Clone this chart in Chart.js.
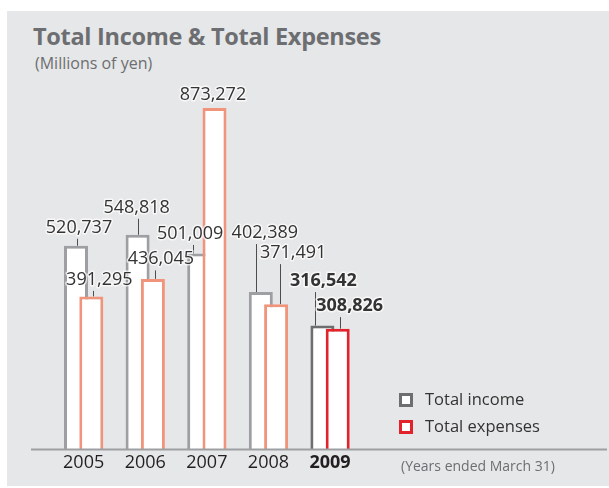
<!DOCTYPE html>
<html>
<head>
<meta charset="utf-8">
<title>Total Income &amp; Total Expenses</title>
<script src="https://cdn.jsdelivr.net/npm/chart.js@4.4.1/dist/chart.umd.min.js"></script>
<style>
  html, body { margin: 0; padding: 0; background: #fff; }
  body { width: 609px; height: 488px; position: relative; overflow: hidden; font-family: "Open Sans", sans-serif; }
  #panel { position: absolute; left: 7px; top: 11px; width: 602px; height: 475px; background: #e6e7e8; }
  #chart { position: absolute; left: 0; top: 0; }
  .txt { position: absolute; white-space: nowrap; line-height: 1; }
  #title { left: 33px; top: 24.5px; font-size: 23.5px; font-weight: bold; color: #6d6e71; letter-spacing: -0.3px; }
  #unit { left: 35px; top: 55px; font-size: 16px; color: #6d6e71; }
  #note { left: 401px; top: 459px; font-size: 14px; color: #6d6e71; }
  .leg { position: absolute; left: 399px; width: 8px; height: 8px; background: #fff; border: 3px solid; }
  .legtxt { left: 425px; font-size: 16.5px; color: #333; }
</style>
</head>
<body>
<div id="panel"></div>
<div class="txt" id="title">Total Income &amp; Total Expenses</div>
<div class="txt" id="unit">(Millions of yen)</div>
<canvas id="chart" width="609" height="488"></canvas>
<div class="leg" style="top:393px;border-color:#6d6e70"></div>
<div class="txt legtxt" style="top:390.5px">Total income</div>
<div class="leg" style="top:420px;border-color:#e3232b"></div>
<div class="txt legtxt" style="top:418px">Total expenses</div>
<div class="txt" id="note">(Years ended March 31)</div>

<script>
const years = ['2005', '2006', '2007', '2008', '2009'];
const totalIncome = [520737, 548818, 501009, 402389, 316542];
const totalExpenses = [391295, 436045, 873272, 371491, 308826];

// value label placement: text centre offset from bar centre, baseline height above bar top,
// leader line x offset from bar centre (null = no leader)
const incomeLabelPos = [
  { dx: 3, rise: 13, lead: 1 },
  { dx: -1, rise: 22, lead: 0 },
  { dx: -9, rise: 14.5, lead: -6 },
  { dx: 4, rise: 54, lead: -5 },
  { dx: 1, rise: 39.5, lead: -7 }
];
const expensesLabelPos = [
  { dx: 8, rise: 11.5, lead: 2 },
  { dx: 8, rise: 14.5, lead: 2 },
  { dx: -1.5, rise: 7.5, lead: null },
  { dx: 17, rise: 46, lead: 4 },
  { dx: 12, rise: 17.5, lead: 2.5 }
];

const latest = '2009';
const incomeColors = years.map(y => y === latest ? '#6d6e70' : '#9d9fa2');
const expensesColors = years.map(y => y === latest ? '#e3232b' : '#f0957b');

// income sits behind the expenses bar, so paint it first
const paintOrder = {
  id: 'paintOrder',
  beforeDatasetsDraw(chart) {
    chart.getDatasetMeta(0).controller.draw();
  },
  beforeDatasetDraw(chart, args) {
    if (args.index === 0) return false;
  }
};

// base line across the whole panel plus the value labels with their leader lines
const valueLabels = {
  id: 'valueLabels',
  afterDatasetsDraw(chart) {
    const ctx = chart.ctx;
    const zeroY = chart.scales.y.getPixelForValue(0);
    ctx.save();
    ctx.strokeStyle = '#9d9fa2';
    ctx.lineWidth = 2;
    ctx.beginPath();
    ctx.moveTo(31, zeroY);
    ctx.lineTo(607, zeroY);
    ctx.stroke();

    const layouts = [incomeLabelPos, expensesLabelPos];
    chart.data.datasets.forEach((ds, di) => {
      const meta = chart.getDatasetMeta(di);
      meta.data.forEach((bar, i) => {
        const pos = layouts[di][i];
        const baseY = bar.y - pos.rise;
        if (pos.lead !== null) {
          const lx = Math.round(bar.x + pos.lead) + 0.5;
          ctx.strokeStyle = '#4d4d4f';
          ctx.lineWidth = 1;
          ctx.beginPath();
          ctx.moveTo(lx, baseY + 6);
          ctx.lineTo(lx, bar.y);
          ctx.stroke();
        }
        const bold = years[i] === latest;
        ctx.font = (bold ? 'bold ' : '') + '18px "Open Sans"';
        ctx.textAlign = 'center';
        ctx.textBaseline = 'alphabetic';
        const txt = ds.data[i].toLocaleString('en-US');
        ctx.lineJoin = 'round';
        ctx.strokeStyle = 'rgba(255,255,255,0.7)';
        ctx.lineWidth = 3;
        ctx.strokeText(txt, bar.x + pos.dx, baseY);
        ctx.fillStyle = '#333';
        ctx.fillText(txt, bar.x + pos.dx, baseY);
      });
    });
    ctx.restore();
  }
};

new Chart(document.getElementById('chart'), {
  type: 'bar',
  data: {
    labels: years,
    datasets: [
      { label: 'Total income', data: totalIncome, backgroundColor: '#fff', borderColor: incomeColors, borderWidth: 3 },
      { label: 'Total expenses', data: totalExpenses, backgroundColor: '#fff', borderColor: expensesColors, borderWidth: 3 }
    ]
  },
  options: {
    responsive: false,
    animation: false,
    categoryPercentage: 0.4968,
    barPercentage: 1.569,
    layout: { padding: { left: 52.85, right: 248.15, top: 58.35, bottom: 11 } },
    scales: {
      x: {
        grid: { display: false, drawTicks: false },
        border: { display: false },
        ticks: {
          padding: 3,
          color: '#231f20',
          font: c => ({ family: 'Open Sans', size: 18, weight: years[c.index] === latest ? 'bold' : 'normal' })
        }
      },
      y: { display: false, min: 0, max: 1000000 }
    },
    plugins: { legend: { display: false }, tooltip: { enabled: false } }
  },
  plugins: [paintOrder, valueLabels]
});
</script>
</body>
</html>
